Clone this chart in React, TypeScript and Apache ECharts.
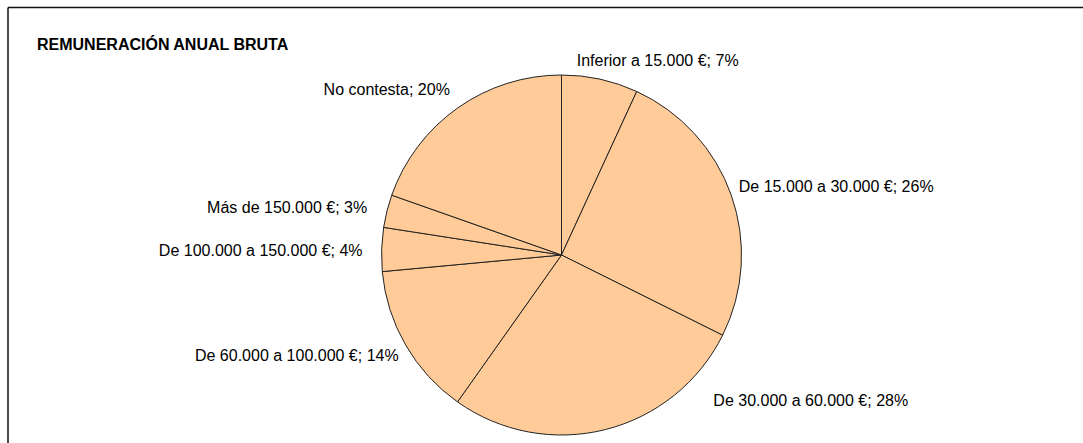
import React, { useEffect, useRef } from "react";
import * as echarts from "echarts";

// ---- data ----
const TITLE = "REMUNERACIÓN ANUAL BRUTA";
const categories = [
  "Inferior a 15.000 €",
  "De 15.000 a 30.000 €",
  "De 30.000 a 60.000 €",
  "De 60.000 a 100.000 €",
  "De 100.000 a 150.000 €",
  "Más de 150.000 €",
  "No contesta",
];
const percentages = [7, 26, 28, 14, 4, 3, 20];

// ---- layout / style ----
const FONT = "'Liberation Sans', Arial, Helvetica, sans-serif";
const FILL = "#FFCC99";
const EDGE = "#222222";
// per-label nudges (px) relative to ECharts' default outside position
const LABEL_NUDGE: [number, number][] = [
  [-25, -11],
  [0, -6],
  [106, -37],
  [0, 6],
  [-11, 1],
  [-12, -2],
  [-3, -12],
];

export default function App() {
  const ref = useRef<HTMLDivElement>(null);
  useEffect(() => {
    if (!ref.current) return;
    const chart = echarts.init(ref.current, undefined, { renderer: "svg" });
    const data = categories.map((name, i) => ({ name, value: percentages[i] }));
    chart.setOption({
      animation: false,
      backgroundColor: "#ffffff",
      title: {
        text: TITLE,
        left: 32,
        top: 31,
        textStyle: { fontFamily: FONT, fontSize: 16, fontWeight: "bold", color: "#000" },
      },
      graphic: [
        { type: "line", shape: { x1: 8, y1: 7.5, x2: 1083, y2: 7.5 }, style: { stroke: "#111", lineWidth: 1.5 } },
        { type: "line", shape: { x1: 8, y1: 7.5, x2: 8, y2: 443 }, style: { stroke: "#111", lineWidth: 1.5 } },
      ],
      series: [
        {
          type: "pie",
          center: [561.5, 255],
          radius: 180,
          startAngle: 90,
          clockwise: true,
          avoidLabelOverlap: false,
          itemStyle: { color: FILL, borderColor: EDGE, borderWidth: 1 },
          emphasis: { disabled: true },
          label: {
            show: true,
            position: "outside",
            formatter: (p: any) => `${p.name}; ${p.value}%`,
            fontFamily: FONT,
            fontSize: 16,
            color: "#000",
            distanceToLabelLine: 0,
          },
          labelLine: { show: false, length: 8, length2: 0 },
          labelLayout: (p: any) => {
            const n = LABEL_NUDGE[p.dataIndex] || [0, 0];
            return { dx: n[0], dy: n[1] };
          },
          data,
        },
      ],
    });
    return () => chart.dispose();
  }, []);
  return (
    <div
      ref={ref}
      style={{ position: "absolute", left: 0, top: 0, width: 1083, height: 443 }}
    />
  );
}
